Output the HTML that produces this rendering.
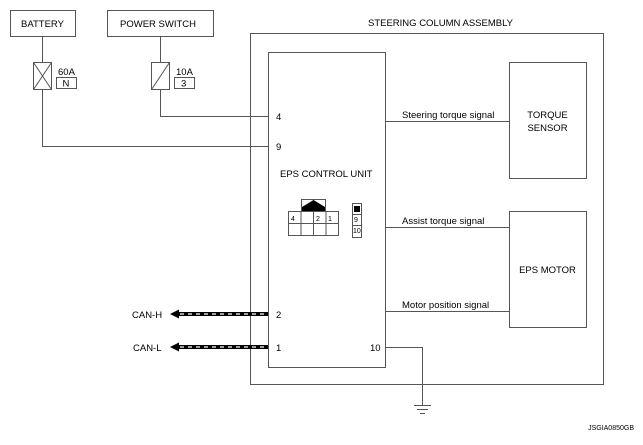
<!DOCTYPE html><html><head><style>body{margin:0;background:#fff}</style></head><body>
<svg width="643" height="440" viewBox="0 0 643 440" xmlns="http://www.w3.org/2000/svg" font-family="Liberation Sans, sans-serif" font-size="9.5" fill="#000">
<g fill="none" stroke="#555" stroke-width="1">
<rect x="10.5" y="10.5" width="65" height="26"/>
<rect x="107.5" y="10.5" width="106" height="26"/>
<rect x="250.5" y="33.5" width="353" height="351"/>
<rect x="268.5" y="52.5" width="117" height="315"/>
<rect x="509.5" y="62.5" width="77" height="116"/>
<rect x="509.5" y="211.5" width="77" height="116"/>
<line x1="42.5" y1="36" x2="42.5" y2="62"/>
<rect x="33.5" y="62.5" width="18" height="27"/>
<line x1="33.5" y1="62.5" x2="51.5" y2="89.5"/><line x1="51.5" y1="62.5" x2="33.5" y2="89.5"/>
<rect x="56.5" y="77.5" width="20" height="11"/>
<polyline points="42.5,89 42.5,146.5 268,146.5"/>
<line x1="160.5" y1="36" x2="160.5" y2="62"/>
<rect x="151.5" y="62.5" width="18" height="27"/>
<line x1="169.5" y1="62.5" x2="151.5" y2="89.5"/>
<rect x="174.5" y="77.5" width="20" height="11"/>
<polyline points="160.5,89 160.5,116.5 268,116.5"/>
<line x1="385" y1="121.5" x2="509" y2="121.5"/>
<line x1="385" y1="227.5" x2="509" y2="227.5"/>
<line x1="385" y1="311.5" x2="509" y2="311.5"/>
<polyline points="385,347.5 422.5,347.5 422.5,405"/>
<line x1="414" y1="405.5" x2="431" y2="405.5"/>
<line x1="417" y1="409.5" x2="428" y2="409.5"/>
<line x1="420" y1="413.5" x2="425" y2="413.5"/>
<rect x="288.5" y="211.5" width="50" height="24"/>
<line x1="288.5" y1="223.5" x2="338.5" y2="223.5"/>
<line x1="301" y1="211" x2="301" y2="236"/><line x1="313.5" y1="211" x2="313.5" y2="236"/><line x1="326" y1="211" x2="326" y2="236"/>
<rect x="301.5" y="199.5" width="24" height="12"/>
<rect x="352.5" y="203.5" width="9" height="34"/>
<line x1="352.5" y1="214.5" x2="361.5" y2="214.5"/><line x1="352.5" y1="225.5" x2="361.5" y2="225.5"/>
</g>
<polygon points="302,207 313.5,200 325,207 325,211 302,211" fill="#000"/>
<rect x="354" y="206" width="6" height="6" fill="#000"/>
<g>
<rect x="178" y="312" width="90" height="4" fill="#000"/>
<line x1="180" y1="314" x2="268" y2="314" stroke="#fff" stroke-width="1.2" stroke-dasharray="4,4"/>
<polygon points="170,314 179,309.5 179,318.5" fill="#000"/>
<rect x="178" y="345" width="90" height="4" fill="#000"/>
<line x1="180" y1="347" x2="268" y2="347" stroke="#fff" stroke-width="1.2" stroke-dasharray="4,4"/>
<polygon points="170,347 179,342.5 179,351.5" fill="#000"/>
</g>
<text x="21" y="27">BATTERY</text>
<text x="120" y="27">POWER SWITCH</text>
<text x="368" y="26">STEERING COLUMN ASSEMBLY</text>
<text x="58" y="75">60A</text><text x="62.5" y="86.5">N</text>
<text x="176" y="75">10A</text><text x="181" y="86.5">3</text>
<text x="276" y="120">4</text><text x="276" y="150">9</text>
<text x="276" y="318">2</text><text x="276" y="351">1</text><text x="370" y="351">10</text>
<text x="280" y="177">EPS CONTROL UNIT</text>
<text x="402" y="118">Steering torque signal</text>
<text x="402" y="224">Assist torque signal</text>
<text x="402" y="308">Motor position signal</text>
<text x="547.5" y="118" text-anchor="middle">TORQUE</text>
<text x="547.5" y="131" text-anchor="middle">SENSOR</text>
<text x="547.5" y="273" text-anchor="middle">EPS MOTOR</text>
<text x="132" y="318">CAN-H</text><text x="133" y="351">CAN-L</text>
<g font-size="7"><text x="291" y="221">4</text><text x="316" y="221">2</text><text x="328" y="221">1</text>
<text x="354" y="222">9</text><text x="353" y="233">10</text></g>
<text x="634" y="430" font-size="7" text-anchor="end">JSGIA0850GB</text>
</svg></body></html>
